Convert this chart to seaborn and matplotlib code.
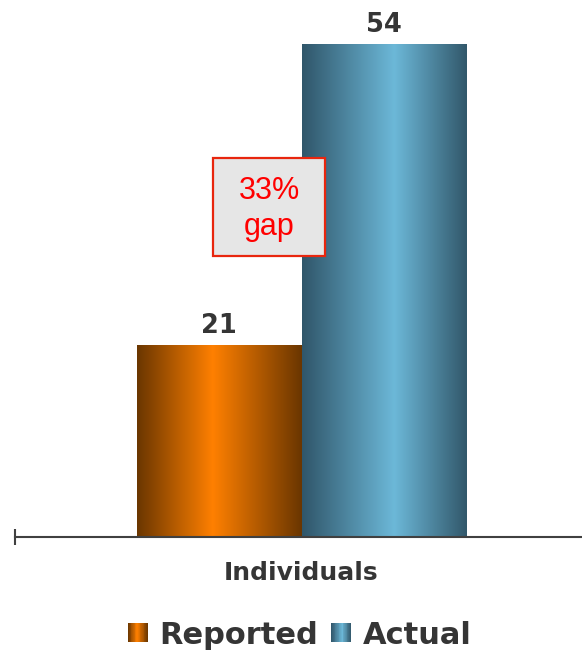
import numpy as np
import pandas as pd
import matplotlib
matplotlib.use("Agg")
import matplotlib.pyplot as plt
import seaborn as sns
from matplotlib.colors import LinearSegmentedColormap
from matplotlib.legend_handler import HandlerBase
from matplotlib.patches import Rectangle

# ---- data -------------------------------------------------------------
categories = ["Individuals"]
series = ["Reported", "Actual"]
values = [21, 54]
gap_label = "33%\ngap"

# ---- style ------------------------------------------------------------
TEXT = "#353535"
AXIS = "#404040"
cmaps = {
    "Reported": LinearSegmentedColormap.from_list(
        "orange_cyl", [(0.0, "#6a3600"), (0.46, "#ff8000"), (1.0, "#6a3600")]),
    "Actual": LinearSegmentedColormap.from_list(
        "blue_cyl", [(0.0, "#30566a"), (0.56, "#6cb8d8"), (1.0, "#32586b")]),
}

sns.set_theme(style="white")
plt.rcParams["font.family"] = ["DejaVu Sans"]

df = pd.DataFrame({
    "category": categories * len(series),
    "series": series,
    "value": values,
})

fig = plt.figure(figsize=(5.82, 6.52), dpi=100)
ax = fig.add_axes([15 / 582, 115 / 652, 573 / 582, 537 / 652])

sns.barplot(data=df, x="category", y="value", hue="series",
            hue_order=series, palette=[cmaps[s](0.5) for s in series],
            width=0.8, saturation=1, linewidth=0, legend=False, ax=ax)

# cylinder-like horizontal gradient on each bar
grad = np.linspace(0, 1, 256).reshape(1, -1)
for container, name in zip(ax.containers, series):
    for bar in container:
        x0, w, h = bar.get_x(), bar.get_width(), bar.get_height()
        ax.imshow(grad, cmap=cmaps[name], aspect="auto",
                  extent=(x0, x0 + w, 0, h), zorder=bar.get_zorder() + 0.1,
                  interpolation="bilinear")
    ax.bar_label(container, fmt="%d", padding=5, fontsize=18.5,
                 fontweight="bold", color=TEXT)

ax.set_xlim(-0.697, 0.697)
ax.set_ylim(0, 58.9)

for side in ("top", "right", "left"):
    ax.spines[side].set_visible(False)
ax.spines["bottom"].set_color(AXIS)
ax.spines["bottom"].set_linewidth(1.5)
ax.set_yticks([])
ax.set_xlabel("")
ax.set_ylabel("")

ax.set_xticks([0])
ax.set_xticklabels(categories, fontsize=18, fontweight="bold", color=TEXT)
ax.tick_params(axis="x", which="major", bottom=True, length=0, pad=17.5)
ax.set_xticks([-0.697], minor=True)
ax.tick_params(axis="x", which="minor", bottom=True, direction="inout",
               length=12, width=1.5, color=AXIS)

# gap callout
box_l, box_r, box_b, box_t = 0.3455, 0.541, 0.5233, 0.7058
ax.add_patch(Rectangle((box_l, box_b), box_r - box_l, box_t - box_b,
                       transform=ax.transAxes, facecolor="#e6e6e6",
                       edgecolor="#e8260e", linewidth=1.6, zorder=5))
ax.text((box_l + box_r) / 2, (box_b + box_t) / 2 - 0.004, gap_label,
        transform=ax.transAxes, ha="center", va="center", fontsize=22,
        color="#ff0000", family="Liberation Sans", linespacing=1.25, zorder=6)


class GradientSquare(HandlerBase):
    def __init__(self, cmap, n=24):
        super().__init__()
        self.cmap = cmap
        self.n = n

    def create_artists(self, legend, orig_handle, xdescent, ydescent,
                       width, height, fontsize, trans):
        side = height
        x0 = -xdescent + (width - side) / 2
        y0 = -ydescent
        arts = []
        for i in range(self.n):
            arts.append(Rectangle((x0 + i * side / self.n, y0),
                                  side / self.n * 1.08, side,
                                  facecolor=self.cmap((i + 0.5) / self.n),
                                  edgecolor="none", transform=trans))
        return arts


handles = [Rectangle((0, 0), 1, 1) for _ in series]
fig.legend(handles, series, loc="center",
           bbox_to_anchor=(300 / 582, 1 - 635 / 652), ncol=2, frameon=False,
           handler_map={h: GradientSquare(cmaps[s]) for h, s in zip(handles, series)},
           prop={"weight": "bold", "size": 22}, labelcolor=TEXT,
           handlelength=0.6, handleheight=0.6, handletextpad=0.4,
           columnspacing=0.45, borderpad=0.1)

fig.savefig("out.png", dpi=100)
